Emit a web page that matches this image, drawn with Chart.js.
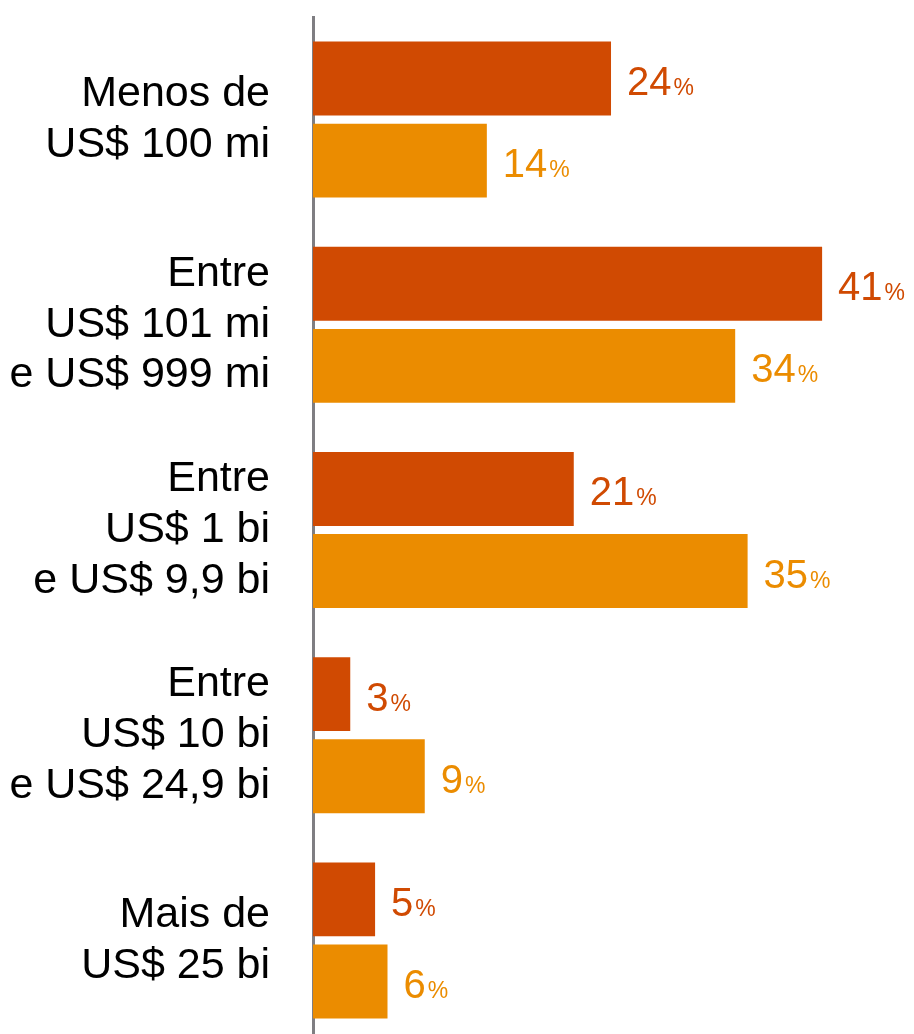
<!DOCTYPE html>
<html>
<head>
<meta charset="utf-8">
<script src="https://cdn.jsdelivr.net/npm/chart.js@4"></script>
<style>
html, body { margin: 0; padding: 0; background: #fff; overflow: hidden; }
#wrap { position: relative; width: 914px; height: 1043px; }
</style>
</head>
<body>
<div id="wrap"><canvas id="c"></canvas></div>
<script>
const categories = [
  ["Menos de", "US$ 100 mi"],
  ["Entre", "US$ 101 mi", "e US$ 999 mi"],
  ["Entre", "US$ 1 bi", "e US$ 9,9 bi"],
  ["Entre", "US$ 10 bi", "e US$ 24,9 bi"],
  ["Mais de", "US$ 25 bi"]
];
const seriesA = [24, 41, 21, 3, 5];
const seriesB = [14, 34, 35, 9, 6];
const colorA = "#D04A02";
const colorB = "#EB8C00";

const valueLabels = {
  id: "valueLabels",
  afterDatasetsDraw(chart) {
    const ctx = chart.ctx;
    ctx.save();
    ctx.textBaseline = "alphabetic";
    ctx.textAlign = "left";
    chart.data.datasets.forEach((ds, di) => {
      const meta = chart.getDatasetMeta(di);
      meta.data.forEach((el, i) => {
        const v = String(ds.data[i]);
        const x = el.x + 16;
        const y = el.y + 16.5;
        ctx.fillStyle = ds.backgroundColor;
        ctx.font = "40px 'Liberation Sans', Arial, sans-serif";
        ctx.fillText(v, x, y);
        const w = ctx.measureText(v).width;
        ctx.font = "23px 'Liberation Sans', Arial, sans-serif";
        ctx.fillText("%", x + w + 2, y);
      });
    });
    ctx.restore();
  }
};

new Chart(document.getElementById("c"), {
  type: "bar",
  data: {
    labels: categories,
    datasets: [
      { data: seriesA, backgroundColor: colorA, categoryPercentage: 0.8, barPercentage: 0.9 },
      { data: seriesB, backgroundColor: colorB, categoryPercentage: 0.8, barPercentage: 0.9 }
    ]
  },
  options: {
    indexAxis: "y",
    responsive: true,
    maintainAspectRatio: false,
    animation: false,
    layout: { padding: { top: 17, right: 0, bottom: 0, left: 0 } },
    plugins: { legend: { display: false }, tooltip: { enabled: false } },
    scales: {
      x: {
        display: false,
        min: 0,
        max: 48.4
      },
      y: {
        z: 1,
        afterFit(scale) {
          scale.width = 313;
          scale.paddingTop = 0;
          scale.paddingBottom = 0;
        },
        grid: { display: false, drawTicks: false },
        border: { display: true, color: "#7f7e82", width: 3 },
        ticks: {
          color: "#000",
          padding: 43,
          font: { family: "'Liberation Sans', Arial, sans-serif", size: 43, lineHeight: 1.18 }
        }
      }
    }
  },
  plugins: [valueLabels]
});
</script>
</body>
</html>
